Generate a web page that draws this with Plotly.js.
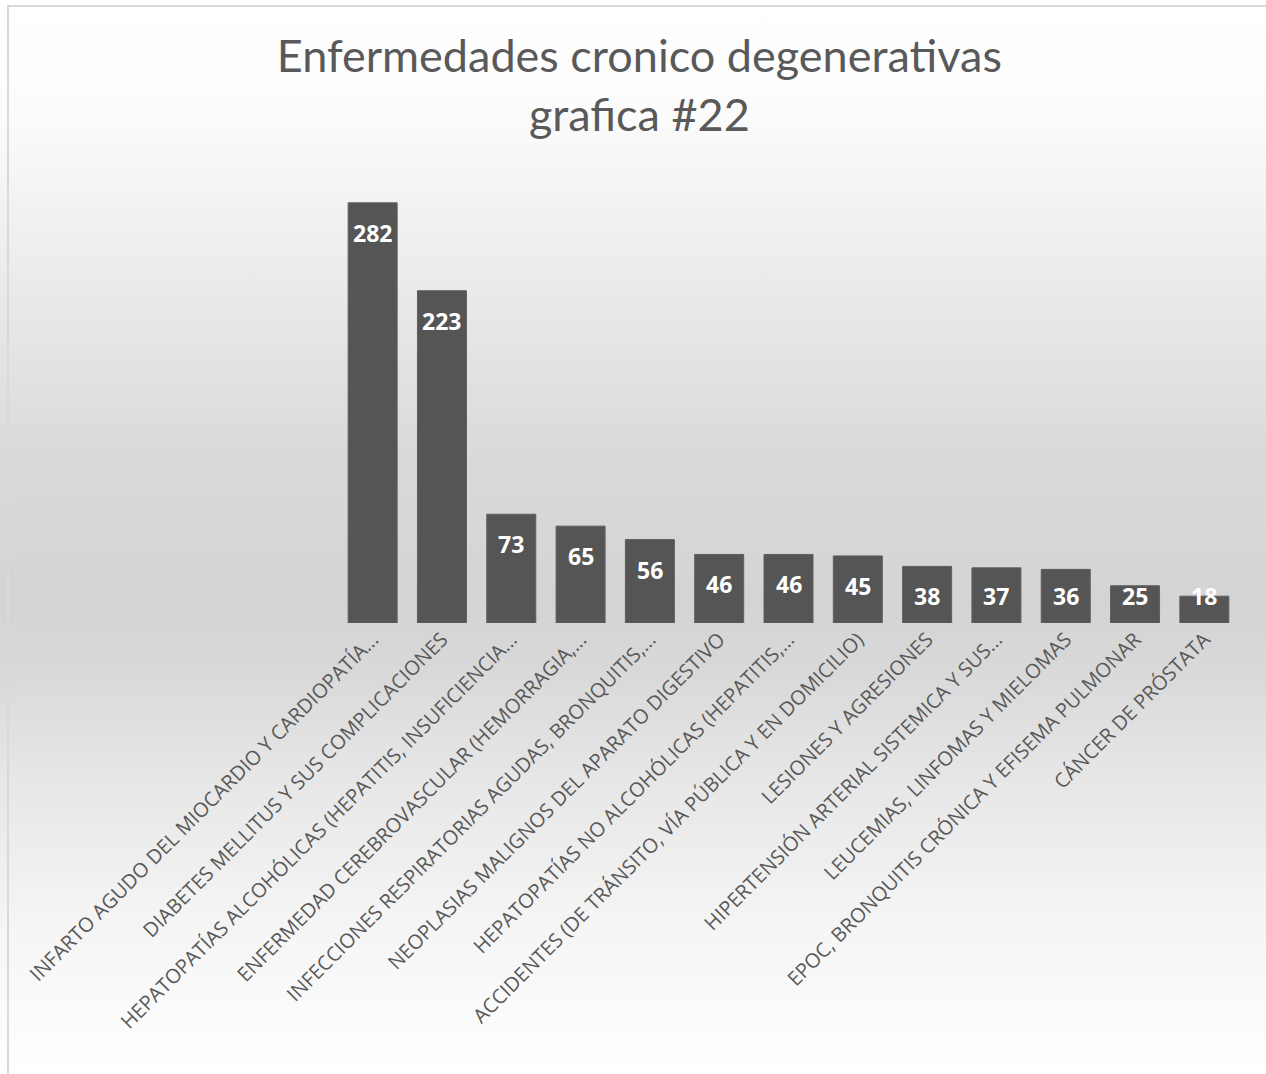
<!DOCTYPE html>
<html>
<head>
<meta charset="utf-8">
<script src="https://cdn.plot.ly/plotly-3.0.1.min.js"></script>
<style>
  html, body { margin: 0; padding: 0; }
  body {
    width: 1266px; height: 1074px; overflow: hidden; position: relative;
    background: linear-gradient(to bottom, #ffffff 0%, #fcfcfc 10%, #ececec 25%, #dadada 42%, #d4d4d4 56%, #d8d8d8 62%, #e6e6e6 72%, #f4f4f4 85%, #ffffff 100%);
  }
  #chart { position: absolute; left: 0; top: 0; width: 1266px; height: 1074px; }
  .bl { position: absolute; left: 7px; top: 5px; width: 2px; height: 1069px; background: #d9d9d9; }
  .bt { position: absolute; left: 7px; top: 5px; width: 1259px; height: 2px; background: #d9d9d9; }
</style>
</head>
<body>
<div class="bl"></div><div class="bt"></div>
<div id="chart"></div>
<script>
const categories = [
  "INFARTO AGUDO DEL MIOCARDIO Y CARDIOPATÍA...",
  "DIABETES MELLITUS Y SUS COMPLICACIONES",
  "HEPATOPATÍAS ALCOHÓLICAS (HEPATITIS, INSUFICIENCIA...",
  "ENFERMEDAD CEREBROVASCULAR (HEMORRAGIA,...",
  "INFECCIONES RESPIRATORIAS AGUDAS, BRONQUITIS,...",
  "NEOPLASIAS MALIGNOS DEL APARATO DIGESTIVO",
  "HEPATOPATÍAS NO ALCOHÓLICAS (HEPATITIS,...",
  "ACCIDENTES (DE TRÁNSITO, VÍA PÚBLICA Y EN DOMICILIO)",
  "LESIONES Y AGRESIONES",
  "HIPERTENSIÓN ARTERIAL SISTEMICA Y SUS...",
  "LEUCEMIAS, LINFOMAS Y MIELOMAS",
  "EPOC, BRONQUITIS CRÓNICA Y EFISEMA PULMONAR",
  "CÁNCER DE PRÓSTATA"
];
const values = [282, 223, 73, 65, 56, 46, 46, 45, 38, 37, 36, 25, 18];
const titleText = "Enfermedades cronico degenerativas<br>grafica #22";

const W = 1266, H = 1074;
const M = { l: 338, r: 27, t: 176, b: 451 };
const yMax = 300;
const ppu = (H - M.t - M.b) / yMax;

const annotations = values.map((v, i) => ({
  x: categories[i], y: v, xref: 'x', yref: 'y',
  text: '<b>' + v + '</b>', showarrow: false,
  yanchor: 'middle', xanchor: 'center',
  yshift: -Math.min(30, v * ppu - 27),
  font: { family: 'Open Sans, sans-serif', size: 23, color: '#ffffff' }
}));

const trace = {
  type: 'bar', x: categories, y: values,
  marker: { color: '#555555', line: { color: '#5f5f5f', width: 1 } },
  hoverinfo: 'x+y'
};

const layout = {
  width: W, height: H,
  margin: M,
  paper_bgcolor: 'rgba(0,0,0,0)', plot_bgcolor: 'rgba(0,0,0,0)',
  bargap: 0.293,
  showlegend: false,
  title: {
    text: titleText, x: 0.505, xanchor: 'center', y: 1 - 72 / H, yanchor: 'top',
    font: { family: 'Lato, sans-serif', size: 45, color: '#595959' }
  },
  xaxis: {
    type: 'category', tickangle: -45, showline: false, showgrid: false, zeroline: false,
    ticks: '', automargin: false,
    tickfont: { family: 'Open Sans, sans-serif', size: 20, color: '#595959' }
  },
  yaxis: {
    range: [0, yMax], visible: false, showgrid: false, zeroline: false, fixedrange: true
  },
  annotations: annotations
};

Plotly.newPlot('chart', [trace], layout, { displayModeBar: false, staticPlot: true });
</script>
</body>
</html>
